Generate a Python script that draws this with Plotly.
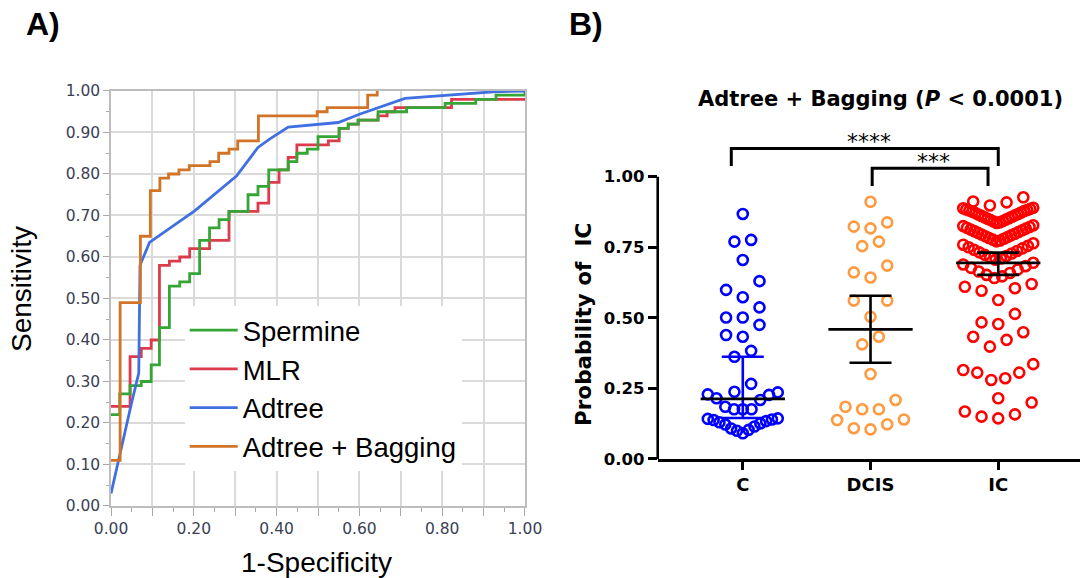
import plotly.graph_objects as go

# ---------------- Panel A : ROC curves (1-specificity, sensitivity) ----------------
spermine_fpr = [0, 0.021, 0.046, 0.073, 0.097, 0.117, 0.141, 0.166, 0.19, 0.214, 0.238, 0.261, 0.285,
                0.331, 0.355, 0.381, 0.428, 0.449, 0.474, 0.50, 0.551, 0.573, 0.597, 0.645, 0.714,
                0.807, 0.881, 0.93, 1.0, 1.0]
spermine_tpr = [0.22, 0.27, 0.29, 0.30, 0.34, 0.43, 0.53, 0.54, 0.56, 0.64, 0.67, 0.69, 0.71,
                0.75, 0.77, 0.81, 0.83, 0.85, 0.86, 0.89, 0.91, 0.92, 0.93, 0.95, 0.96,
                0.97, 0.98, 0.99, 0.99, 1.0]

mlr_fpr = [0, 0.046, 0.073, 0.097, 0.117, 0.141, 0.166, 0.19, 0.238, 0.285, 0.355, 0.381, 0.406,
           0.428, 0.449, 0.525, 0.551, 0.573, 0.597, 0.645, 0.667, 0.686, 0.8225, 1.0]
mlr_tpr = [0.24, 0.36, 0.38, 0.40, 0.58, 0.59, 0.60, 0.62, 0.64, 0.71, 0.73, 0.78, 0.81,
           0.84, 0.87, 0.88, 0.91, 0.92, 0.93, 0.94, 0.95, 0.96, 0.98, 0.98]

adtree_fpr = [0, 0.021, 0.05, 0.067, 0.07, 0.093, 0.149, 0.202, 0.303, 0.355, 0.383, 0.428,
              0.549, 0.60, 0.71, 0.811, 0.923, 1.0]
adtree_tpr = [0.03, 0.125, 0.25, 0.32, 0.58, 0.635, 0.675, 0.711, 0.795, 0.864, 0.884, 0.913,
              0.924, 0.944, 0.982, 0.99, 0.998, 1.0]

bagging_fpr = [0, 0.022, 0.071, 0.095, 0.118, 0.139, 0.164, 0.189, 0.239, 0.26, 0.285, 0.306,
               0.356, 0.498, 0.522, 0.62, 0.643]
bagging_tpr = [0.11, 0.49, 0.65, 0.76, 0.79, 0.80, 0.81, 0.82, 0.83, 0.85, 0.86, 0.88,
               0.94, 0.95, 0.96, 0.99, 1.00]

roc_ticks = [0.0, 0.1, 0.2, 0.3, 0.4, 0.5, 0.6, 0.7, 0.8, 0.9, 1.0]
roc_minor = [0.05, 0.15, 0.25, 0.35, 0.45, 0.55, 0.65, 0.75, 0.85, 0.95]
roc_y_labels = ["0.00", "0.10", "0.20", "0.30", "0.40", "0.50", "0.60", "0.70", "0.80", "0.90", "1.00"]
roc_x_labels = ["0.00", "", "0.20", "", "0.40", "", "0.60", "", "0.80", "", "1.00"]

# ---------------- Panel B : probability of IC per group ----------------
groups = ["C", "DCIS", "IC"]
prob_C = [0.091, 0.100, 0.103, 0.108, 0.115, 0.122, 0.126, 0.130, 0.134, 0.138, 0.140, 0.142, 0.144,
          0.176, 0.176, 0.176, 0.185, 0.209, 0.215, 0.227, 0.229, 0.236,
          0.238, 0.266, 0.362, 0.383, 0.433, 0.439, 0.475, 0.501, 0.501, 0.537,
          0.573, 0.599, 0.630, 0.705, 0.770, 0.776, 0.868]
prob_DCIS = [0.105, 0.109, 0.123, 0.138, 0.140, 0.176, 0.176, 0.185, 0.209, 0.301, 0.406, 0.433,
             0.504, 0.561, 0.561, 0.643, 0.661, 0.685, 0.754, 0.770, 0.817, 0.823, 0.838, 0.911]
prob_IC = [0.144, 0.150, 0.158, 0.168, 0.200, 0.215, 0.280, 0.286, 0.306, 0.306, 0.315, 0.336,
           0.398, 0.422, 0.433, 0.449, 0.478, 0.484, 0.514, 0.563, 0.596, 0.605, 0.610, 0.620,
           0.641, 0.647, 0.652, 0.659, 0.664, 0.671, 0.677, 0.683, 0.689, 0.695,
           0.706, 0.710, 0.714, 0.719, 0.723, 0.728, 0.732, 0.737, 0.741, 0.746, 0.750, 0.755,
           0.759, 0.764,
           0.771, 0.774, 0.777, 0.780, 0.783, 0.786, 0.789, 0.792, 0.795, 0.798, 0.801, 0.804,
           0.807, 0.810, 0.813, 0.816, 0.819, 0.822, 0.825, 0.828,
           0.836, 0.838, 0.841, 0.843, 0.846, 0.848, 0.851, 0.853, 0.856, 0.858, 0.861, 0.863,
           0.866, 0.868, 0.871, 0.873, 0.876, 0.878, 0.880, 0.882, 0.884, 0.886, 0.888, 0.890,
           0.898, 0.909, 0.912, 0.927]
summary_center = [0.213, 0.459, 0.695]
summary_low = [0.145, 0.341, 0.652]
summary_high = [0.362, 0.578, 0.731]
comparisons = [(0, 2), (1, 2)]
comparison_labels = ["****", "***"]
prob_ticks = [0.0, 0.25, 0.50, 0.75, 1.00]
prob_tick_labels = ["0.00", "0.25", "0.50", "0.75", "1.00"]

# ---------------- layout constants ----------------
W, H = 1080, 578
XA_DOM = [0.1028, 0.4861]
YA_DOM = [0.1246, 0.8426]
XB_DOM = [0.609, 1.0]
XB_RANGE = [-0.666, 2.64]
YB_DOM = [0.2059, 0.7920]
YB_RANGE = [0, 1.2]
px_per_unit_b = W * (XB_DOM[1] - XB_DOM[0]) / (XB_RANGE[1] - XB_RANGE[0])


def swarm_offsets(values, bin_h=0.0605, base_px=16.7, max_half_px=35.0):
    order = sorted(range(len(values)), key=lambda k: values[k])
    offs = [0.0] * len(values)
    i = 0
    while i < len(order):
        start = values[order[i]]
        j = i
        while j < len(order) and values[order[j]] <= start + bin_h:
            j += 1
        members = order[i:j]
        n = len(members)
        s = base_px if n < 2 else min(base_px, 2 * max_half_px / (n - 1))
        slots = []
        if n % 2 == 1:
            slots.append(0.0)
            k = 1.0
        else:
            k = 0.5
        while len(slots) < n:
            slots += [-k, k]
            k += 1
        for m, sl in zip(members, slots[:n]):
            offs[m] = sl * s / px_per_unit_b
        i = j
    return offs


fig = go.Figure()

roc_font = "Liberation Sans, Arial, sans-serif"
tick_col = "#3a3f55"

# ROC traces (drawing order: red, green, blue, orange; legend order via legendrank)
fig.add_trace(go.Scatter(x=mlr_fpr, y=mlr_tpr, mode="lines", name="MLR", line=dict(color="#DC3B4C", width=2.8, shape="hv"),
                         legendrank=2, xaxis="x", yaxis="y"))
fig.add_trace(go.Scatter(x=spermine_fpr, y=spermine_tpr, mode="lines", name="Spermine", line=dict(color="#35A535", width=2.8, shape="hv"),
                         legendrank=1, xaxis="x", yaxis="y"))
fig.add_trace(go.Scatter(x=adtree_fpr, y=adtree_tpr, mode="lines", name="Adtree", line=dict(color="#3F6FE0", width=2.8),
                         legendrank=3, xaxis="x", yaxis="y"))
fig.add_trace(go.Scatter(x=bagging_fpr, y=bagging_tpr, mode="lines", name="Adtree + Bagging", line=dict(color="#D27427", width=2.8, shape="hv"),
                         legendrank=4, xaxis="x", yaxis="y"))

# Scatter dot plot
group_values = [prob_C, prob_DCIS, prob_IC]
group_colors = ["#0000FF", "#FF9A40", "#FF0000"]
bar_colors = ["#0000FF", "#000000", "#000000"]
for gi, vals in enumerate(group_values):
    offs = swarm_offsets(vals)
    fig.add_trace(go.Scatter(
        x=[gi + o for o in offs], y=vals, mode="markers", showlegend=False,
        marker=dict(symbol="circle-open", size=10, color=group_colors[gi], line=dict(width=2.6, color=group_colors[gi])),
        xaxis="x2", yaxis="y2", cliponaxis=False))

for gi in range(len(groups)):
    c = summary_center[gi]
    fig.add_trace(go.Scatter(
        x=[gi], y=[c], mode="markers", showlegend=False,
        marker=dict(size=1, color="rgba(0,0,0,0)"),
        error_y=dict(type="data", symmetric=False, array=[summary_high[gi] - c], arrayminus=[c - summary_low[gi]],
                     width=21, thickness=2.6, color=bar_colors[gi]),
        xaxis="x2", yaxis="y2"))

shapes = []
for gi in range(len(groups)):
    shapes.append(dict(type="line", xref="x2", yref="y2", x0=gi - 0.33, x1=gi + 0.33,
                       y0=summary_center[gi], y1=summary_center[gi], line=dict(color="black", width=2.8)))
# y axis line of panel B (0 to 1 only)
shapes.append(dict(type="line", xref="x2 domain", yref="y2", x0=0, x1=0, y0=0, y1=1.0,
                   line=dict(color="black", width=2.6)))
# significance brackets
bracket_tops = [1.100, 1.030]
bracket_legs = [0.062, 0.063]
bracket_x_adj = [(-0.09, 0.0), (0.013, -0.08)]
annotations = []
for (a, b), lab, top, leg, (da, db) in zip(comparisons, comparison_labels, bracket_tops, bracket_legs, bracket_x_adj):
    xa, xb = a + da, b + db
    shapes.append(dict(type="path", xref="x2", yref="y2",
                       path=f"M {xa},{top - leg} L {xa},{top} L {xb},{top} L {xb},{top - leg}",
                       line=dict(color="black", width=3)))
    annotations.append(dict(x=(xa + xb) / 2 + 0.03, y=top, xref="x2", yref="y2", text=lab, showarrow=False,
                            yanchor="bottom", yshift=-8,
                            font=dict(family="DejaVu Sans", size=22, color="black")))

annotations += [
    dict(x=24 / W, y=1 - 24 / H, xref="paper", yref="paper", text="<b>A)</b>", showarrow=False,
         xanchor="left", yanchor="middle", font=dict(family=roc_font, size=32, color="black")),
    dict(x=567 / W, y=1 - 24 / H, xref="paper", yref="paper", text="<b>B)</b>", showarrow=False,
         xanchor="left", yanchor="middle", font=dict(family=roc_font, size=32, color="black")),
    dict(x=21 / W, y=1 - 289 / H, xref="paper", yref="paper", text="Sensitivity", showarrow=False, textangle=-90,
         xanchor="center", yanchor="middle", font=dict(family=roc_font, size=28, color="black")),
    dict(x=316 / W, y=1 - 562 / H, xref="paper", yref="paper", text="1-Specificity", showarrow=False,
         xanchor="center", yanchor="middle", font=dict(family=roc_font, size=28, color="black")),
    dict(x=880 / W, y=1 - 99 / H, xref="paper", yref="paper",
         text="<b>Adtree + Bagging (<i>P</i> &lt; 0.0001)</b>", showarrow=False,
         xanchor="center", yanchor="middle", font=dict(family="DejaVu Sans", size=21, color="black")),
    dict(x=583 / W, y=1 - 325 / H, xref="paper", yref="paper", text="<b>Probability of\u00a0\u00a0IC</b>",
         showarrow=False, textangle=-90, xanchor="center", yanchor="middle",
         font=dict(family="DejaVu Sans", size=21.5, color="black")),
]

fig.update_layout(
    width=W, height=H, margin=dict(l=0, r=0, t=0, b=0),
    paper_bgcolor="white", plot_bgcolor="white",
    showlegend=True,
    legend=dict(x=0.171, y=0.471, xanchor="left", yanchor="top", bgcolor="white", borderwidth=0,
                font=dict(family=roc_font, size=27.5, color="black"), itemwidth=48, tracegroupgap=0),
    xaxis=dict(domain=XA_DOM, range=[0, 1], anchor="y", tickvals=roc_ticks, ticktext=roc_x_labels,
               showgrid=True, gridcolor="#DADADA", gridwidth=1.5, zeroline=False,
               showline=True, mirror=True, linecolor="#BDBDBD", linewidth=1.5,
               ticks="outside", ticklen=8, tickwidth=1.3, tickcolor="#A8A8A8",
               minor=dict(tickvals=roc_minor, ticks="outside", ticklen=4, tickwidth=1.2, tickcolor="#A8A8A8", showgrid=False),
               tickfont=dict(family="DejaVu Sans", size=15.5, color=tick_col), automargin=False, fixedrange=True),
    yaxis=dict(domain=YA_DOM, range=[0, 1], anchor="x", tickvals=roc_ticks, ticktext=roc_y_labels,
               showgrid=True, gridcolor="#DADADA", gridwidth=1.5, zeroline=False,
               showline=True, mirror=True, linecolor="#BDBDBD", linewidth=1.5,
               ticks="outside", ticklen=6, tickwidth=1.3, tickcolor="#A8A8A8",
               minor=dict(tickvals=roc_minor, ticks="outside", ticklen=3, tickwidth=1.2, tickcolor="#A8A8A8", showgrid=False),
               tickfont=dict(family="DejaVu Sans", size=15.5, color=tick_col), automargin=False, fixedrange=True),
    xaxis2=dict(domain=XB_DOM, range=XB_RANGE, anchor="y2", tickvals=[0, 1, 2], ticktext=groups,
                showgrid=False, zeroline=False, showline=True, linecolor="black", linewidth=2.6,
                ticks="outside", ticklen=8, tickwidth=2.6, tickcolor="black",
                tickfont=dict(family="DejaVu Sans", size=18, color="black", weight="bold"),
                automargin=False, fixedrange=True),
    yaxis2=dict(domain=YB_DOM, range=YB_RANGE, anchor="x2", tickvals=prob_ticks, ticktext=prob_tick_labels,
                showgrid=False, zeroline=False, showline=False,
                ticks="outside", ticklen=9, tickwidth=2.6, tickcolor="black",
                tickfont=dict(family="DejaVu Sans", size=16.5, color="black", weight="bold"),
                automargin=False, fixedrange=True),
    shapes=shapes, annotations=annotations,
)

fig.write_html("out.html", config={"displayModeBar": False},
               post_script="document.body.style.margin='0px';document.body.style.overflow='hidden';")
